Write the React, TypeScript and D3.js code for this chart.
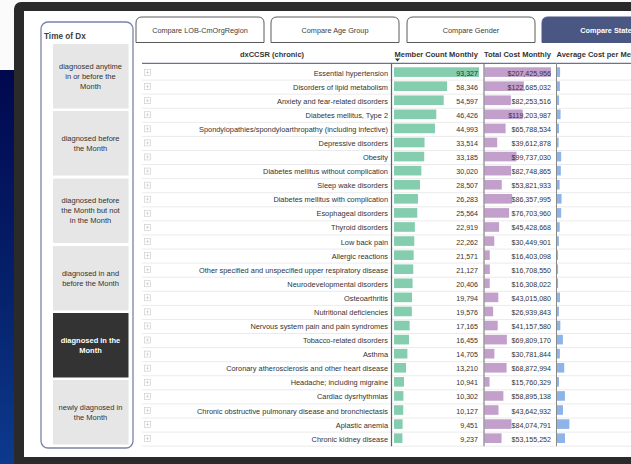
import React from "react";
import * as d3 from "d3";

const categories = [
  "Essential hypertension",
  "Disorders of lipid metabolism",
  "Anxiety and fear-related disorders",
  "Diabetes mellitus, Type 2",
  "Spondylopathies/spondyloarthropathy (including infective)",
  "Depressive disorders",
  "Obesity",
  "Diabetes mellitus without complication",
  "Sleep wake disorders",
  "Diabetes mellitus with complication",
  "Esophageal disorders",
  "Thyroid disorders",
  "Low back pain",
  "Allergic reactions",
  "Other specified and unspecified upper respiratory disease",
  "Neurodevelopmental disorders",
  "Osteoarthritis",
  "Nutritional deficiencies",
  "Nervous system pain and pain syndromes",
  "Tobacco-related disorders",
  "Asthma",
  "Coronary atherosclerosis and other heart disease",
  "Headache; including migraine",
  "Cardiac dysrhythmias",
  "Chronic obstructive pulmonary disease and bronchiectasis",
  "Aplastic anemia",
  "Chronic kidney disease",
];

const memberCount = [
  93327, 58346, 54597, 46426, 44993, 33514, 33185, 30020, 28507, 26283, 25564,
  22919, 22262, 21571, 21127, 20406, 19794, 19576, 17165, 16455, 14705, 13210,
  10941, 10302, 10127, 9451, 9237,
];

const totalCost = [
  207425956, 122685032, 82253516, 119203987, 65788534, 39612878, 99737030,
  82748865, 53821933, 86357995, 76703960, 45428668, 30449901, 16403098,
  16708550, 16308022, 43015080, 26939843, 41157580, 69809170, 30781844,
  68872994, 15760329, 58895138, 43642932, 84074791, 53155252,
];

const slicerTitle = "Time of Dx";
const slicerOptions = [
  ["diagnosed anytime", "in or before the", "Month"],
  ["diagnosed before", "the Month"],
  ["diagnosed before", "the Month but not", "in the Month"],
  ["diagnosed in and", "before the Month"],
  ["diagnosed in the", "Month"],
  ["newly diagnosed in", "the Month"],
];
const selectedOption = 4;

const tabs = [
  "Compare LOB-CmOrgRegion",
  "Compare Age Group",
  "Compare Gender",
  "Compare State",
];
const selectedTab = 3;

const columnHeaders = [
  "dxCCSR (chronic)",
  "Member Count Monthly",
  "Total Cost Monthly",
  "Average Cost per Member Monthly",
];

const FONT = "'Segoe UI', 'Liberation Sans', Arial, sans-serif";

function tabPath(x: number, y: number, w: number, h: number, r: number) {
  return `M${x},${y + h} L${x},${y + r} Q${x},${y} ${x + r},${y} L${x + w - r},${y} Q${x + w},${y} ${x + w},${y + r} L${x + w},${y + h} Z`;
}

export default function App() {
  const W = 631;
  const H = 464;
  const avgCost = memberCount.map((m, i) => totalCost[i] / m);

  const y = d3
    .scaleBand<string>()
    .domain(categories)
    .range([66, 66 + categories.length * 14.08])
    .padding(0);

  const xCount = d3
    .scaleLinear()
    .domain([0, d3.max(memberCount) as number])
    .range([394, 479]);
  const xCost = d3
    .scaleLinear()
    .domain([0, d3.max(totalCost) as number])
    .range([484.5, 551]);
  const xAvg = d3.scaleLinear().domain([0, 72000]).range([557, 657]);

  const fmtInt = d3.format(",");
  const fmtMoney = (v: number) => "$" + d3.format(",")(v);

  const tabX = [136, 271, 407, 542];
  const tabW = 128;

  const btnY = [44, 111, 178.5, 246, 313, 380];
  const btnH = 64.5;

  const tableBottom = 66 + categories.length * 14.08;

  return (
    <div style={{ position: "fixed", left: 0, top: 0, width: W, height: H }}>
      <svg width={W} height={H} style={{ display: "block" }} fontFamily={FONT}>
        <defs>
          <linearGradient id="navy" x1="0" y1="0" x2="0" y2="1">
            <stop offset="0" stopColor="#00084e" />
            <stop offset="0.6" stopColor="#06236e" />
            <stop offset="1" stopColor="#0d3a8e" />
          </linearGradient>
          <clipPath id="panelClip">
            <rect x={24} y={11} width={W - 24} height={446} />
          </clipPath>
        </defs>
        {/* page background */}
        <rect x={0} y={0} width={W} height={H} fill="#fbfbfb" />
        <rect x={0} y={70} width={20} height={H - 70} fill="url(#navy)" />
        {/* dark frame */}
        <rect x={14} y={2} width={W + 20} height={H + 20} rx={7} fill="#2a2a2a" />
        <rect x={24} y={11} width={W} height={446} fill="#ffffff" />

        {/* slicer */}
        <rect
          x={41}
          y={22}
          width={92}
          height={426}
          rx={7}
          fill="#ffffff"
          stroke="#7a83a8"
          strokeWidth={1.3}
        />
        <text x={44} y={39} fontSize={8.2} fontWeight="bold" fill="#404040">
          {slicerTitle}
        </text>
        {slicerOptions.map((lines, i) => {
          const sel = i === selectedOption;
          const cy = btnY[i] + btnH / 2;
          const lh = 10;
          const start = cy - ((lines.length - 1) * lh) / 2 + 2.6;
          return (
            <g key={i}>
              <rect
                x={53}
                y={btnY[i]}
                width={75.5}
                height={btnH}
                fill={sel ? "#333333" : "#e6e6e6"}
              />
              {lines.map((ln, j) => (
                <text
                  key={j}
                  x={90.5}
                  y={start + j * lh}
                  textAnchor="middle"
                  fontSize={7.5}
                  fontWeight={sel ? "bold" : "normal"}
                  fill={sel ? "#ffffff" : "#333333"}
                >
                  {ln}
                </text>
              ))}
            </g>
          );
        })}

        <g clipPath="url(#panelClip)">
          {/* tabs */}
          {tabs.map((t, i) => {
            const sel = i === selectedTab;
            return (
              <g key={t}>
                <path
                  d={tabPath(tabX[i], 17, tabW, 25.5, 6)}
                  fill={sel ? "#4a5783" : "#ffffff"}
                  stroke={sel ? "#4a5783" : "#5a5a5a"}
                  strokeWidth={1}
                />
                <text
                  x={tabX[i] + tabW / 2}
                  y={32.5}
                  textAnchor="middle"
                  fontSize={7.3}
                  fontWeight={sel ? "bold" : "normal"}
                  fill={sel ? "#ffffff" : "#404040"}
                >
                  {t}
                </text>
              </g>
            );
          })}

          {/* table header */}
          <text x={272} y={56.5} textAnchor="middle" fontSize={7.5} fontWeight="bold" fill="#333">
            {columnHeaders[0]}
          </text>
          <text x={394.5} y={56.5} fontSize={7.5} fontWeight="bold" fill="#333">
            {columnHeaders[1]}
          </text>
          <text x={484} y={56.5} fontSize={7.5} fontWeight="bold" fill="#333">
            {columnHeaders[2]}
          </text>
          <text x={556.5} y={56.5} fontSize={7.5} fontWeight="bold" fill="#333">
            {columnHeaders[3]}
          </text>
          <path d="M395,58.5 L400,58.5 L397.5,61.5 Z" fill="#333" />
          <line x1={142} x2={W} y1={63.3} y2={63.3} stroke="#6b7391" strokeWidth={1.3} />

          {/* rows */}
          {categories.map((c, i) => {
            const top = y(c) as number;
            const bh = y.bandwidth();
            const barY = top + 1.3;
            const barH = 9.6;
            const ty = top + 9.6;
            return (
              <g key={c}>
                <line
                  x1={142}
                  x2={W}
                  y1={top + bh}
                  y2={top + bh}
                  stroke="#ebebeb"
                  strokeWidth={1}
                />
                <rect x={144.5} y={top + 3.5} width={6} height={6} fill="none" stroke="#cfcfcf" strokeWidth={0.7} />
                <line x1={147.5} x2={147.5} y1={top + 4.8} y2={top + 8.2} stroke="#cfcfcf" strokeWidth={0.7} />
                <line x1={145.8} x2={149.2} y1={top + 6.5} y2={top + 6.5} stroke="#cfcfcf" strokeWidth={0.7} />
                <text x={388} y={ty} textAnchor="end" fontSize={7.4} fill="#333">
                  {c}
                </text>
                <rect
                  x={xCount(0)}
                  y={barY}
                  width={xCount(memberCount[i]) - xCount(0)}
                  height={barH}
                  fill="#84cdae"
                />
                <text x={478} y={ty} textAnchor="end" fontSize={7.1} fill="#333">
                  {fmtInt(memberCount[i])}
                </text>
                <rect
                  x={xCost(0)}
                  y={barY}
                  width={xCost(totalCost[i]) - xCost(0)}
                  height={barH}
                  fill="#c3a0cb"
                />
                <text x={551} y={ty} textAnchor="end" fontSize={7.1} fill="#333">
                  {fmtMoney(totalCost[i])}
                </text>
                <rect
                  x={xAvg(0)}
                  y={barY}
                  width={xAvg(avgCost[i]) - xAvg(0)}
                  height={barH}
                  fill="#8db4e9"
                />
              </g>
            );
          })}

          {/* column separators */}
          <line x1={391.5} x2={391.5} y1={63} y2={tableBottom} stroke="#5b6277" strokeWidth={1.2} />
          <line x1={484} x2={484} y1={63} y2={tableBottom} stroke="#6b6b6b" strokeWidth={1} />
          <line x1={556.5} x2={556.5} y1={63} y2={tableBottom} stroke="#8a8a8a" strokeWidth={1} />
        </g>
      </svg>
    </div>
  );
}
